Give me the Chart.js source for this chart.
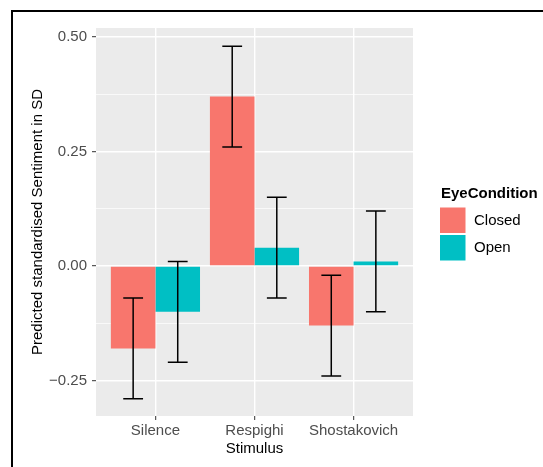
<!DOCTYPE html>
<html>
<head>
<meta charset="utf-8">
<script src="https://cdn.jsdelivr.net/npm/chart.js@4.4.1/dist/chart.umd.min.js"></script>
<style>
  html, body { margin: 0; padding: 0; background: #fff; }
  #c { display: block; }
</style>
</head>
<body>
<canvas id="c" width="543" height="467"></canvas>
<script>
// --- data ---
const categories = ['Silence', 'Respighi', 'Shostakovich'];
const groups = ['Closed', 'Open'];
const closedMean = [-0.18, 0.37, -0.13];
const closedLow  = [-0.29, 0.26, -0.24];
const closedHigh = [-0.07, 0.48, -0.02];
const openMean = [-0.10, 0.04, 0.01];
const openLow  = [-0.21, -0.07, -0.10];
const openHigh = [0.01, 0.15, 0.12];
const yMajor = [-0.25, 0, 0.25, 0.5];
const yMajorLabels = ['\u22120.25', '0.00', '0.25', '0.50'];
const yMinor = [-0.125, 0.125, 0.375];

const colors = ['#F8766D', '#00BFC4'];
const FONT = "'Liberation Sans', Arial, Helvetica, sans-serif";
Chart.defaults.font.family = FONT;

const isMajor = (v) => yMajor.some((m) => Math.abs(m - v) < 1e-9);

const panelBg = {
  id: 'panelBg',
  beforeDraw(chart) {
    const { ctx, chartArea: a } = chart;
    ctx.save();
    ctx.fillStyle = '#EBEBEB';
    ctx.fillRect(a.left, a.top, a.right - a.left, a.bottom - a.top);
    ctx.restore();
  },
};

const errorBars = {
  id: 'errorBars',
  afterDatasetsDraw(chart) {
    const { ctx, scales: { x, y } } = chart;
    const half = x.getPixelForValue(1.1) - x.getPixelForValue(1); // width 0.2
    ctx.save();
    ctx.strokeStyle = '#000';
    ctx.lineWidth = 1.5;
    chart.data.datasets.forEach((ds, d) => {
      chart.getDatasetMeta(d).data.forEach((el, i) => {
        const lo = y.getPixelForValue(ds.low[i]);
        const hi = y.getPixelForValue(ds.high[i]);
        ctx.beginPath();
        ctx.moveTo(el.x, lo); ctx.lineTo(el.x, hi);
        ctx.moveTo(el.x - half, lo); ctx.lineTo(el.x + half, lo);
        ctx.moveTo(el.x - half, hi); ctx.lineTo(el.x + half, hi);
        ctx.stroke();
      });
    });
    ctx.restore();
  },
};

// ggplot-style legend on the right + the outer frame
const sideLegend = {
  id: 'sideLegend',
  afterDraw(chart) {
    const { ctx } = chart;
    ctx.save();
    ctx.fillStyle = '#000';
    ctx.textBaseline = 'alphabetic';
    ctx.font = `bold 15px ${FONT}`;
    ctx.fillText('EyeCondition', 441, 198);
    ctx.font = `15px ${FONT}`;
    ctx.textBaseline = 'middle';
    chart.data.datasets.forEach((ds, i) => {
      const top = 207.5 + i * 27.5;
      ctx.fillStyle = ds.backgroundColor;
      ctx.fillRect(440, top, 25.5, 25.5);
      ctx.fillStyle = '#000';
      ctx.fillText(ds.label, 474, top + 13);
    });
    ctx.fillRect(11, 10, 532, 2);
    ctx.fillRect(11, 10, 2, 457);
    ctx.restore();
  },
};

new Chart(document.getElementById('c'), {
  type: 'bar',
  data: {
    datasets: [
      { label: groups[0], data: closedMean.map((v, i) => ({ x: i + 1, y: v })), low: closedLow, high: closedHigh, backgroundColor: colors[0] },
      { label: groups[1], data: openMean.map((v, i) => ({ x: i + 1, y: v })), low: openLow, high: openHigh, backgroundColor: colors[1] },
    ],
  },
  options: {
    responsive: false,
    animation: false,
    devicePixelRatio: 1,
    categoryPercentage: 0.9,
    barPercentage: 1,
    layout: { padding: { top: 28, right: 130, left: 0, bottom: 0 } },
    plugins: { legend: { display: false }, tooltip: { enabled: false } },
    scales: {
      x: {
        type: 'linear',
        min: 0.4, max: 3.6,
        offset: false,
        afterBuildTicks: (s) => { s.ticks = categories.map((c, i) => ({ value: i + 1 })); },
        afterFit: (s) => { s.height = 51; },
        border: { display: false },
        grid: { offset: false, color: '#fff', lineWidth: 1.4, tickLength: 4, tickColor: '#333', tickWidth: 1 },
        ticks: {
          autoSkip: false, maxRotation: 0, padding: 2, color: '#4D4D4D', font: { size: 15 },
          callback: (v) => categories[Math.round(v) - 1],
        },
        title: { display: true, text: 'Stimulus', color: '#000', font: { size: 15 }, padding: { top: 0, bottom: 9 } },
      },
      y: {
        min: -0.3275, max: 0.5197,
        afterBuildTicks: (s) => { s.ticks = [...yMajor, ...yMinor].sort((a, b) => a - b).map((v) => ({ value: v })); },
        afterFit: (s) => { s.width = 96; },
        border: { display: false },
        grid: {
          color: '#fff',
          lineWidth: (c) => (c.tick && isMajor(c.tick.value) ? 1.4 : 0.7),
          tickLength: 4,
          tickWidth: 1,
          tickColor: (c) => (c.tick && isMajor(c.tick.value) ? '#333' : 'rgba(0,0,0,0)'),
        },
        ticks: {
          autoSkip: false, padding: 5, color: '#4D4D4D', font: { size: 15 },
          callback: (v) => { const k = yMajor.findIndex((m) => Math.abs(m - v) < 1e-9); return k < 0 ? '' : yMajorLabels[k]; },
        },
        title: { display: true, text: 'Predicted standardised Sentiment in SD', color: '#000', font: { size: 15 }, padding: { top: 29, bottom: 0 } },
      },
    },
  },
  plugins: [panelBg, errorBars, sideLegend],
});
</script>
</body>
</html>
